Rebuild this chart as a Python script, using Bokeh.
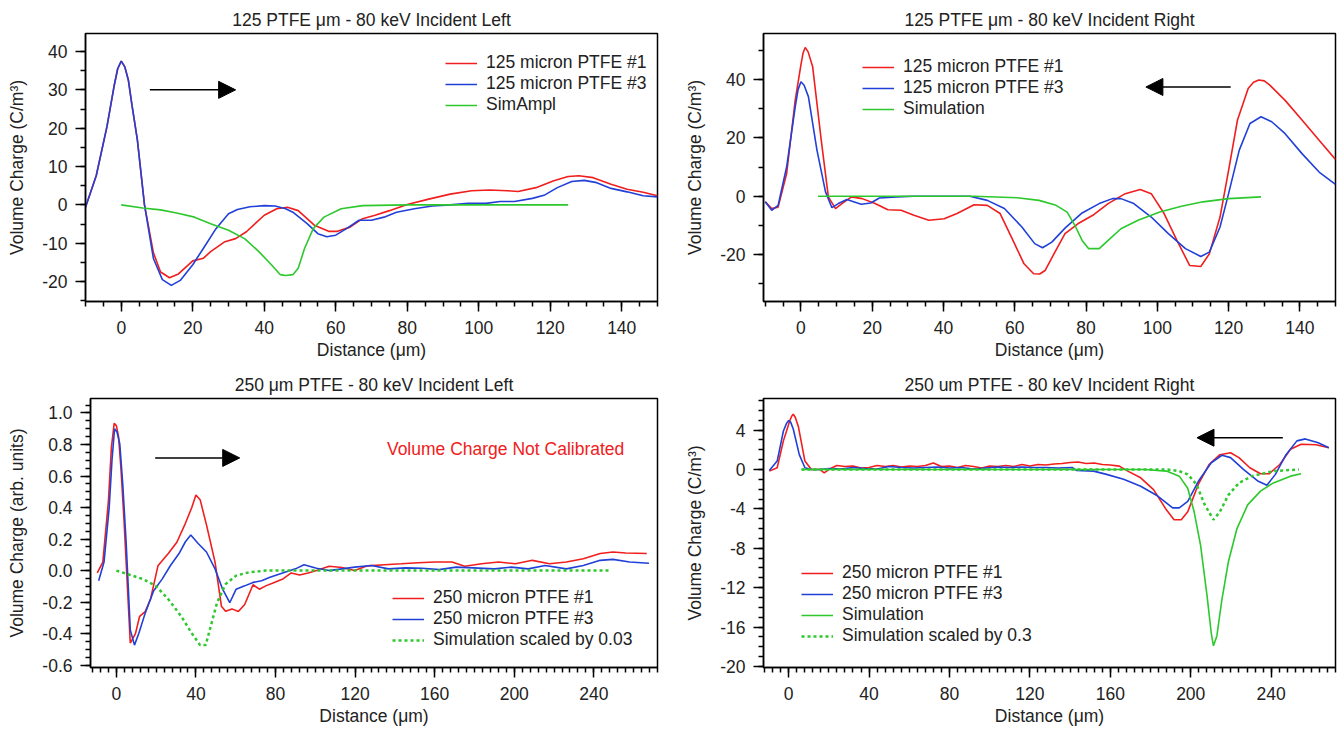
from bokeh.plotting import figure
from bokeh.models import (Legend, LegendItem, SingleIntervalTicker, CustomJSTickFormatter,
                          Arrow, NormalHead, Label, Range1d)
from bokeh.layouts import column, row
from bokeh.embed import file_html
from bokeh.resources import INLINE

# ---------------- data: 125 um, incident left ----------------
tl_x1 = [-10, -7, -4, -2, -1, 0, 1, 2, 3, 4.5, 6.5, 9, 11, 13.5, 16, 20, 23, 25, 29, 32, 35, 40, 43.5,
         46.5, 49.5, 54, 58, 60.5, 64, 67.5, 71, 75, 80, 86, 92, 98, 103, 108, 111, 116, 121, 125, 128,
         132, 137, 141.5, 146, 150]
tl_y1 = [-0.6, 7.6, 20.4, 31, 35.5, 37.5, 36, 32.5, 26, 17, 0, -12.5, -17.5, -19, -18, -14.6, -13.9, -12.2, -9.6, -8.8, -7, -2.7, -1,
         -0.6, -1.5, -5.3, -6.9, -6.9, -5.8, -3.6, -2.7, -1.5, 0.1, 1.5, 2.8, 3.7, 3.9, 3.7, 3.5, 4.5, 6.3, 7.4, 7.6,
         7.1, 5.4, 4.1, 3.3, 2.4]
tl_x3 = [-10, -7, -4, -2, -1, 0, 1, 2, 3, 4.5, 6.5, 9, 11.5, 14, 16.5, 20, 23, 26.5, 30, 32.5, 36, 40, 43,
         46, 48, 52, 55, 57.5, 60, 63, 66.5, 70, 73.5, 77, 82, 87, 92, 97, 102, 106, 110, 115, 118.5,
         122, 126, 129.5, 133, 137, 141.5, 146, 150]
tl_y3 = [-0.6, 7.6, 20.4, 31, 35.5, 37.5, 36, 32.5, 26, 17, 0, -14, -19.5, -21, -19.7, -15.6, -11.3, -6.2, -2.3, -1.2, -0.5, -0.2, -0.3,
         -1, -1.9, -4.9, -7.5, -8.3, -7.9, -6.2, -4, -4, -3.2, -1.9, -1, -0.3, 0, 0.4, 0.4, 0.9, 0.9, 1.7, 2.6,
         4.5, 6.1, 6.4, 5.8, 4.3, 3.4, 2.4, 2.1]
tl_xs = [0, 6, 11, 15.5, 20.5, 25, 30, 34.5, 38.5, 42, 44.5, 46, 48, 49.5, 51.3, 53.7, 56.7, 61.5, 67.5, 80, 125]
tl_ys = [0, -0.8, -1.3, -2.1, -3.2, -4.9, -6.6, -8.8, -12.2, -15.6, -18.2, -18.4, -18.2, -16.5, -11.3, -6.2, -3.2, -1, -0.2, 0, 0]

# ---------------- data: 125 um, incident right ----------------
tr_x1 = [-10, -8.2, -6.4, -4, -1.6, 0, 0.6, 1.2, 2, 3.3, 5.7, 7.7, 9.7, 11.5, 14.2, 17.2, 20.8, 24.4, 28.1, 31.7, 35.9, 40.2,
         43.8, 48.6, 52.3, 55.9, 59.5, 62.6, 65.3, 67, 68.5, 71, 74.1, 77.7, 81.9, 86.2, 91, 95.2, 98.3, 101.9, 105.5, 109.1,
         112.2, 114.6, 117.6, 120, 122.5, 125.5, 127, 128.5, 130, 131.5, 135.8, 140.6, 145.4, 150]
tr_y1 = [-1.9, -4.2, -3.7, 7.8, 32.9, 45, 49, 50.9, 49.5, 44.3, 19.2, -0.2, -4.2, -2.5, -0.2, -0.8, -2.5, -4.6, -4.8, -6.5, -8.2, -7.7,
         -5.9, -2.9, -3.1, -5.9, -15.1, -23.1, -26.5, -26.6, -25.4, -19.7, -12.8, -9.4, -6.5, -2.5, 0.9, 2.3, 0.9, -5.9, -15.1, -23.7,
         -24, -19.7, -7.1, 8.9, 26.1, 36.9, 39, 39.8, 39.5, 38.1, 32.9, 26.1, 19.2, 12.6]
tr_x3 = [-10, -8.2, -6.4, -4, -1.6, -0.8, 0, 0.9, 2.1, 4.5, 6.9, 8.7, 10.5, 12.9, 16.9, 19.6, 22, 26.9, 31.7, 39, 47.4, 52.3,
         57.1, 62, 65.6, 67.8, 70.4, 74.1, 78.9, 83.7, 87.4, 89.8, 93.4, 98.3, 103.1, 107.9, 112.2, 114.6, 117.6, 120, 123, 126,
         129.1, 132.1, 135.8, 140.6, 145.4, 150]
tr_y3 = [-1.9, -4.8, -3.1, 10.1, 30.6, 36.5, 39.2, 38, 34.1, 15.8, 1.5, -3.9, -2.5, -1.1, -2.7, -2.3, -0.6, -0.2, 0, 0, 0, -1.4,
         -4.2, -10.5, -16.2, -17.6, -15.7, -10.9, -5.7, -2.5, -0.8, -0.8, -2.5, -7.1, -12.8, -17.9, -20.6, -19.1, -10.5, 0.9, 15.8, 24.9,
         27.2, 25.5, 21.5, 14.6, 8.3, 4.1]
tr_xs = [4.8, 48.6, 60.7, 66.8, 71.6, 74.7, 77.1, 78.9, 80.7, 83.7, 86.2, 89.8, 94.6, 100.7, 106.8, 112.8, 120, 129.1]
tr_ys = [0, 0, -0.5, -1.4, -3.1, -5.4, -10.5, -15.1, -17.9, -17.9, -15.1, -11.1, -8.2, -5.4, -3.4, -1.9, -0.8, -0.2]

# ---------------- data: 250 um, incident left ----------------
bl_x1 = [-9.6, -6.8, -4, -2.5, -1.1, 0, 1.1, 2.3, 3.8, 7, 9.6, 11.7, 14.5, 17.2, 20.9, 26.2, 30.4, 34.7, 37.9, 40, 42.1, 45.3, 49.6,
         52.8, 54.9, 58.1, 61.3, 64.5, 68.7, 71.9, 75.1, 79.4, 83.6, 87.9, 92.1, 96.4, 100.6, 107, 113.4, 119.8, 126.2, 134.7, 143.2,
         151.7, 160.2, 168.7, 175.1, 183.6, 192.1, 200.6, 209.1, 217.7, 226.2, 234.7, 243.2, 249.6, 256, 266.6]
bl_y1 = [-0.015, 0.054, 0.44, 0.78, 0.935, 0.92, 0.85, 0.65, 0.33, -0.46, -0.4, -0.29, -0.26, -0.18, 0.03, 0.11, 0.18, 0.3, 0.4, 0.48, 0.45, 0.29, 0.054,
         -0.226, -0.258, -0.243, -0.26, -0.215, -0.09, -0.118, -0.097, -0.075, -0.054, -0.015, -0.028, -0.015, 0, 0.028, 0.02, 0, 0.03, 0.037, 0.043,
         0.05, 0.054, 0.054, 0.028, 0.043, 0.054, 0.043, 0.065, 0.043, 0.054, 0.075, 0.108, 0.118, 0.112, 0.108]
bl_x3 = [-8.9, -6.2, -3.6, -2.2, -0.9, 0.3, 1.7, 3.2, 4.9, 7, 9.1, 11.3, 14.5, 18.7, 23, 27.2, 31.5, 34.7, 37.4, 41.1, 45.3, 49.6, 53.4,
         57, 60.2, 64.5, 68.7, 73, 77.2, 83.6, 90, 94.3, 100.6, 107, 113.4, 119.8, 128.3, 136.8, 145.3, 153.8, 162.3, 170.8, 179.4,
         190, 198.5, 207, 215.5, 226.2, 234.7, 243.2, 249.6, 258, 267.7]
bl_y3 = [-0.065, 0.054, 0.4, 0.7, 0.9, 0.88, 0.806, 0.55, 0.183, -0.376, -0.473, -0.398, -0.27, -0.13, -0.054, 0.032, 0.108, 0.183, 0.226, 0.172, 0.118, 0.011, -0.118,
         -0.204, -0.118, -0.097, -0.075, -0.065, -0.043, -0.015, 0.011, 0.037, 0.015, 0, 0.011, 0.022, 0.032, 0.011, 0.017, 0.015, 0.006, 0.022, 0.017,
         0.011, 0.022, 0.011, 0.032, 0.011, 0.032, 0.065, 0.071, 0.054, 0.047]
bl_xs = [0, 7, 13.4, 19.8, 26.2, 32.6, 37.9, 42.1, 44.9, 47.4, 50.6, 54.9, 60.2, 66.6, 75.1, 248]
bl_ys = [0, -0.028, -0.054, -0.097, -0.183, -0.29, -0.398, -0.473, -0.473, -0.355, -0.204, -0.086, -0.032, -0.011, 0, 0]

# ---------------- data: 250 um, incident right ----------------
br_x1 = [-9.6, -5.7, -2.6, 0.6, 1.5, 2.3, 3.3, 4.9, 8.1, 11.3, 15.5, 17.7, 20.9, 24, 28, 32, 36, 40, 44, 48, 52, 56,
         60, 64, 68, 72, 76, 80, 84, 88, 92, 96, 100, 104, 108, 112, 116, 120, 124, 128, 132, 136,
         140, 144, 148, 152, 156, 160, 164.5, 168.7, 175.1, 181.5, 187.9, 191.7, 195.3, 198.5, 203.8, 209.1, 214.5, 219.8, 224, 229.4,
         234.7, 239, 244.3, 249.6, 254.9, 262.3, 268.7]
br_y1 = [-0.17, 0.17, 2.9, 4.96, 5.4, 5.6, 5.3, 4.3, 0.85, 0, 0, -0.34, 0.1, 0.4, 0.3, 0.35, 0.15, 0.2, 0.4, 0.3, 0.4, 0.25,
         0.35, 0.3, 0.4, 0.65, 0.3, 0.35, 0.2, 0.4, 0.3, 0.15, 0.35, 0.3, 0.4, 0.3, 0.5, 0.35, 0.5, 0.45, 0.55, 0.6,
         0.7, 0.75, 0.6, 0.65, 0.5, 0.45, 0.34, -0.17, -0.85, -2.05, -4.1, -5.1, -5.1, -4.3, -1.5, 0.5, 1.5, 1.7, 1.2, 0.17,
         -0.44, -0.44, 0.5, 2.05, 2.56, 2.5, 2.2]
br_x3 = [-9.6, -5.7, -2.6, -1, 0, 1, 2.3, 5.3, 8.1, 11.3, 15.5, 20, 26, 32, 38, 44, 50, 56, 62, 68, 74, 80,
         86, 92, 98, 104, 110, 116, 122, 128, 134, 141, 143.2, 151.7, 158.1, 166.6, 175.1, 183.6, 191, 194.3, 198.5, 203.8,
         210.2, 215.5, 219.8, 226.2, 233.6, 237.9, 242.1, 247.4, 252.8, 257, 263.4, 268.7]
br_y3 = [-0.1, 0.85, 3.9, 4.7, 4.96, 4.8, 4.1, 1.5, 0.17, 0, 0, 0.1, 0.05, 0.2, 0.1, 0.05, 0.3, 0.2, 0.15, 0.2, 0.25, 0.15,
         0.2, 0.05, 0.15, 0.25, 0.2, 0.25, 0.2, 0.2, 0.15, 0.2, -0.1, -0.17, -0.5, -1.0, -1.7, -2.7, -3.9, -3.9, -3.25, -1.2,
         0.68, 1.44, 1.2, 0, -1.2, -1.6, -0.5, 1.5, 2.9, 3.1, 2.7, 2.2]
br_xs = [6.4, 177.2, 187.9, 194.3, 198.5, 201.7, 204.9, 208.1, 210.2, 211.3, 213, 215.5, 218.7, 223, 228.3, 234.7, 241.1, 249.6, 254.9]
br_ys = [0, 0, -0.17, -0.68, -1.9, -4.3, -7.7, -12.8, -16.6, -17.9, -16.9, -13.2, -9.4, -6, -3.6, -2.2, -1.37, -0.68, -0.44]
br_xd = [6.4, 187.9, 194.3, 198.5, 202.8, 207, 211.3, 214.5, 218.7, 224, 230.4, 241.1, 253.8]
br_yd = [0, 0, -0.17, -0.5, -1.5, -3.6, -5.1, -4.3, -2.6, -1.37, -0.68, -0.17, 0]

FONT = "Liberation Sans"
FS = "17.5px"
TXT = "#222222"
RED = "#f01e1e"
BLUE = "#2040d8"
GREEN = "#2cc82c"


def make_fig(title, xr, yr, bl, br, bt, bb, xint, xminor, yint, yminor, ylabel, ydec):
    p = figure(width=672, height=367, x_range=Range1d(*xr), y_range=Range1d(*yr),
               output_backend="svg", toolbar_location=None, title=title,
               min_border_left=bl, min_border_right=br, min_border_top=bt, min_border_bottom=bb)
    p.title.align = "center"
    p.title.text_font = FONT
    p.title.text_font_size = FS
    p.title.text_font_style = "normal"
    p.title.text_color = TXT
    p.title.standoff = 7
    p.grid.visible = False
    p.outline_line_color = "black"
    p.outline_line_width = 1.5
    p.outline_line_alpha = 1
    for ax, intv, mn, dec in ((p.xaxis[0], xint, xminor, 0), (p.yaxis[0], yint, yminor, ydec)):
        ax.ticker = SingleIntervalTicker(interval=intv, num_minor_ticks=mn)
        ax.formatter = CustomJSTickFormatter(
            code="return (Math.abs(tick) < 1e-9 ? 0 : tick).toFixed(%d);" % dec)
        ax.axis_line_color = "black"
        ax.axis_line_width = 1.5
        ax.major_tick_line_color = "black"
        ax.major_tick_line_width = 1.5
        ax.minor_tick_line_color = "black"
        ax.minor_tick_line_width = 1.5
        ax.major_tick_out = 10
        ax.major_tick_in = 0
        ax.minor_tick_out = 5
        ax.minor_tick_in = 0
        ax.major_label_text_font = FONT
        ax.major_label_text_font_size = FS
        ax.major_label_text_color = TXT
        ax.axis_label_text_font = FONT
        ax.axis_label_text_font_size = FS
        ax.axis_label_text_font_style = "normal"
        ax.axis_label_text_color = TXT
    p.xaxis.major_label_standoff = 9
    p.yaxis.major_label_standoff = 8
    p.xaxis.axis_label = "Distance (μm)"
    p.yaxis.axis_label = ylabel
    p.xaxis.axis_label_standoff = 3
    p.yaxis.axis_label_standoff = 12
    return p


def add_legend(p, items, loc):
    lg = Legend(items=[LegendItem(label=l, renderers=[r]) for l, r in items], location=loc,
                background_fill_alpha=0, border_line_alpha=0, padding=0, margin=0, spacing=0,
                glyph_width=32, glyph_height=20, label_height=20, label_standoff=9,
                label_text_font=FONT, label_text_font_size=FS, label_text_color=TXT)
    p.add_layout(lg)


def add_arrow(p, xs, xe, y):
    p.add_layout(Arrow(end=NormalHead(size=17, fill_color="black", line_color="black"),
                       x_start=xs, y_start=y, x_end=xe, y_end=y,
                       line_color="black", line_width=1.5))


# top-left
p1 = make_fig("125 PTFE μm - 80 keV Incident Left", (-10, 150), (-25.2, 44.7), 85, 15, 33, 66,
              20, 4, 10, 2, "Volume Charge (C/m³)", 0)
r1 = p1.line(tl_x1, tl_y1, line_color=RED, line_width=1.6)
r3 = p1.line(tl_x3, tl_y3, line_color=BLUE, line_width=1.6)
rs = p1.line(tl_xs, tl_ys, line_color=GREEN, line_width=1.6)
add_legend(p1, [("125 micron PTFE #1", r1), ("125 micron PTFE #3", r3), ("SimAmpl", rs)], (360, 186))
add_arrow(p1, 8, 32, 30)

# top-right
p2 = make_fig("125 PTFE μm - 80 keV Incident Right", (-10.5, 150), (-36, 55.7), 91, 9, 33, 66,
              20, 4, 20, 2, "Volume Charge (C/m³)", 0)
r1 = p2.line(tr_x1, tr_y1, line_color=RED, line_width=1.6)
r3 = p2.line(tr_x3, tr_y3, line_color=BLUE, line_width=1.6)
rs = p2.line(tr_xs, tr_ys, line_color=GREEN, line_width=1.6)
add_legend(p2, [("125 micron PTFE #1", r1), ("125 micron PTFE #3", r3), ("Simulation", rs)], (99, 182))
add_arrow(p2, 120.6, 96.8, 37.4)

# bottom-left
p3 = make_fig("250 μm PTFE - 80 keV Incident Left", (-13, 272), (-0.615, 1.092), 90, 15, 31, 67,
              40, 10, 0.2, 4, "Volume Charge (arb. units)", 1)
r1 = p3.line(bl_x1, bl_y1, line_color=RED, line_width=1.6)
r3 = p3.line(bl_x3, bl_y3, line_color=BLUE, line_width=1.6)
rs = p3.line(bl_xs, bl_ys, line_color=GREEN, line_width=2.5, line_dash="3 3")
add_legend(p3, [("250 micron PTFE #1", r1), ("250 micron PTFE #3", r3),
                ("Simulation scaled by 0.03", rs)], (302, 17))
add_arrow(p3, 19.5, 62, 0.715)
p3.add_layout(Label(x=136, y=0.77, text="Volume Charge Not Calibrated", text_color="#f02020",
                    text_font=FONT, text_font_size=FS, text_baseline="middle", text_align="left"))

# bottom-right
p4 = make_fig("250 um PTFE - 80 keV Incident Right", (-12.5, 272), (-20.1, 7.2), 91, 9, 31, 67,
              40, 10, 4, 4, "Volume Charge (C/m³)", 0)
r1 = p4.line(br_x1, br_y1, line_color=RED, line_width=1.6)
r3 = p4.line(br_x3, br_y3, line_color=BLUE, line_width=1.6)
rs = p4.line(br_xs, br_ys, line_color=GREEN, line_width=1.6)
rd = p4.line(br_xd, br_yd, line_color=GREEN, line_width=2.5, line_dash="3 3")
add_legend(p4, [("250 micron PTFE #1", r1), ("250 micron PTFE #3", r3), ("Simulation", rs),
                ("Simulation scaled by 0.3", rd)], (38, 21))
add_arrow(p4, 245.8, 203.1, 3.22)

layout = column(row(p1, p2), row(p3, p4))
open("out.html", "w").write(file_html(layout, INLINE))
